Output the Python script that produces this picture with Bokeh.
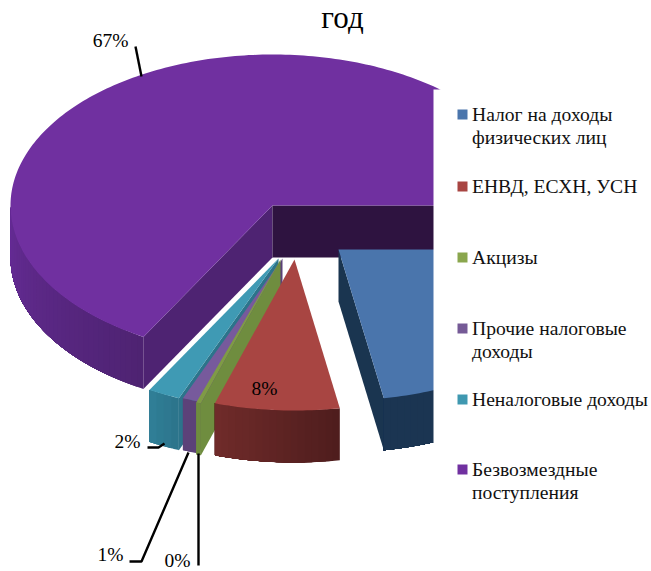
import math
from bokeh.embed import file_html
from bokeh.models import Range1d
from bokeh.plotting import figure
from bokeh.resources import INLINE
from bokeh.core.properties import value

# ---- data
categories = ["Налог на доходы\nфизических лиц", "ЕНВД, ЕСХН, УСН", "Акцизы",
              "Прочие налоговые\nдоходы", "Неналоговые доходы", "Безвозмездные\nпоступления"]
shares = [22.3, 7.7, 0.3, 1.0, 2.0, 67.0]
share_labels = ["", "8%", "0%", "1%", "2%", "67%"]

# ---- styles
top_colors = ["#4a75ac", "#a84542", "#7f9b45", "#775a9c", "#3f9ab4", "#7030a0"]
swatch_colors = ["#4a75ac", "#a84542", "#8aa64d", "#755a96", "#3f98b0", "#7030a0"]
wall_light = ["#1b3552", "#702b2a", "#6f8c3e", "#5c4279", "#307f97", "#662c96"]
wall_dark = ["#1a3450", "#4e1d1d", "#6f8c3e", "#5b4178", "#2c748b", "#4e2372"]
side_colors = ["#1a3550", "#4e1d1d", "#6f8d3f", "#5b4178", "#2c748b", "#4e2372"]
back_wall = "#2e1340"

# ---- layout of the 3D pie, in page pixels
CX, CY, RX, RY, DEPTH = 272, 205, 262, 151, 52
apex = [(338, 249), (294, 259), (280, 259), (282, 258), (278, 258), (CX, CY)]
draw_order = [5, 0, 4, 3, 2, 1]
W, H = 651, 571

p = figure(width=W, height=H, output_backend="svg", toolbar_location=None,
           x_range=Range1d(0, W), y_range=Range1d(H, 0), min_border=0,
           background_fill_color="white", border_fill_color="white", outline_line_color=None)
p.xaxis.visible = False
p.yaxis.visible = False
p.grid.visible = False

total = sum(shares)
edges = [0.0]
for s in shares:
    edges.append(edges[-1] + s / total * 360.0)


def mix(c1, c2, t):
    a = [int(c1[i:i + 2], 16) for i in (1, 3, 5)]
    b = [int(c2[i:i + 2], 16) for i in (1, 3, 5)]
    return "#%02x%02x%02x" % tuple(round(u + (v - u) * t) for u, v in zip(a, b))


def rim(ax, ay, deg):
    r = math.radians(deg)
    return ax + RX * math.cos(r), ay + RY * math.sin(r)


for i in draw_order:
    ax, ay = apex[i]
    a0, a1 = edges[i], edges[i + 1]
    # radial walls whose face looks towards the viewer
    if math.sin(math.radians(a0 - 90)) > 0:
        x, y = rim(ax, ay, a0)
        p.patch([ax, x, x, ax], [ay, y, y + DEPTH, ay + DEPTH], fill_color=side_colors[i],
                line_color=None)
    if math.sin(math.radians(a1 + 90)) > 0:
        x, y = rim(ax, ay, a1)
        col = back_wall if i == 5 else side_colors[i]
        p.patch([ax, x, x, ax], [ay, y, y + DEPTH, ay + DEPTH], fill_color=col,
                line_color=None)
    # outer wall: overlapping bands, each reaching to the wall's far end, shaded left to right
    lo, hi = max(a0, 0.0), min(a1, 180.0)
    if hi > lo:
        n = max(2, int((hi - lo) / 1.5))
        for k in range(n):
            fine = 24
            ts = [lo + (hi - lo) * (k + (n - k) * q / fine) / n for q in range(fine + 1)]
            top = [rim(ax, ay, t) for t in ts]
            xs = [c[0] for c in top] + [c[0] for c in reversed(top)]
            ys = [c[1] for c in top] + [c[1] + DEPTH for c in reversed(top)]
            p.patch(xs, ys, fill_color=mix(wall_dark[i], wall_light[i], (k + 0.5) / n), line_color=None)
    # top face
    n = max(2, int((a1 - a0) / 1.0))
    xs, ys = [ax], [ay]
    for k in range(n + 1):
        x, y = rim(ax, ay, a0 + (a1 - a0) * k / n)
        xs.append(x)
        ys.append(y)
    p.patch(xs, ys, fill_color=top_colors[i], line_color=None)

# the plot area cuts the pie on the right
p.quad(left=433, right=W, top=89, bottom=H, fill_color="white", line_color=None)
p.quad(left=439, right=W, top=0, bottom=89, fill_color="white", line_color=None)

# leader lines
leaders = {5: ([135, 141], [46, 76]),
           4: ([147, 158, 164], [447, 447, 443]),
           3: ([129, 141, 188], [561, 561, 452]),
           2: ([198, 198], [453, 565])}
for xs, ys in leaders.values():
    p.line(xs, ys, line_color="black", line_width=2.4)

SERIF = value("Liberation Serif")
label_pos = {5: (110, 40), 1: (264, 388), 4: (127, 441), 3: (110, 554), 2: (177, 560)}
for i, (x, y) in label_pos.items():
    p.text([x], [y], text=[share_labels[i]], text_font=SERIF, text_font_size="19.5px",
           text_align="center", text_baseline="middle", text_color="black")

p.text([342], [17], text=["год"], text_font=SERIF, text_font_size="31px",
       text_align="center", text_baseline="middle", text_color="black")

# legend
legend_y = [114, 186, 257, 328, 399, 469]
for name, col, y in zip(categories, swatch_colors, legend_y):
    p.quad(left=457, right=467, top=y - 5, bottom=y + 5, fill_color=col, line_color=None)
    for j, line in enumerate(name.split("\n")):
        p.text([471.5], [y + j * 23], text=[line], text_font=SERIF, text_font_size="19.6px",
               text_align="left", text_baseline="middle", text_color="#111111")

open("out.html", "w").write(file_html(p, INLINE))
